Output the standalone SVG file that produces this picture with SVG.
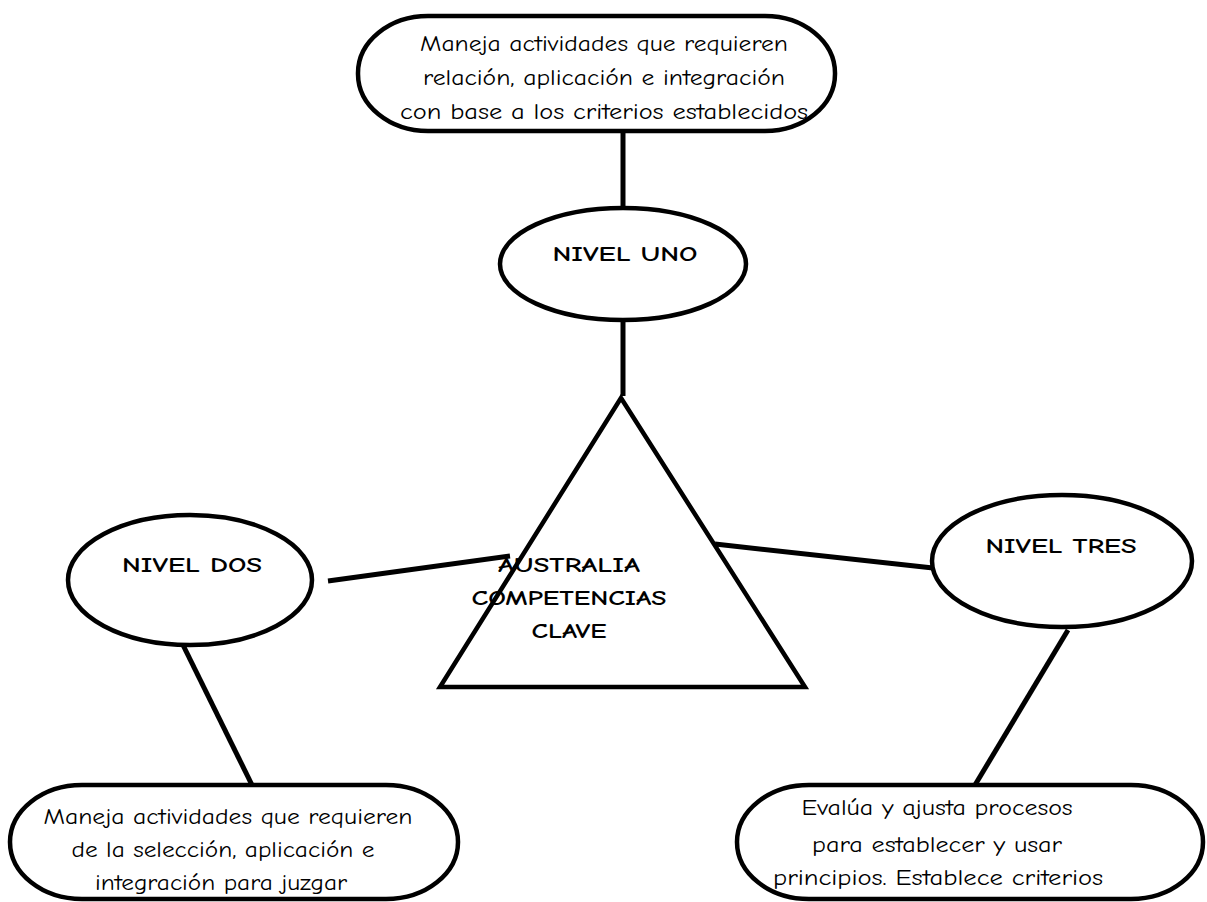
<svg xmlns="http://www.w3.org/2000/svg" width="1207" height="902" viewBox="0 0 1207 902">
<style>
.shape{fill:#fff;stroke:#000;stroke-width:4.5}
.conn line{stroke:#000;stroke-width:5;stroke-linecap:butt}
.t{font-family:"Comic Sans MS","Comic Neue","DejaVu Sans",sans-serif;font-size:23px;fill:#000;text-anchor:middle}
.b{font-family:"Comic Sans MS","Comic Neue","DejaVu Sans",sans-serif;font-size:21px;font-weight:bold;fill:#000;text-anchor:middle}
</style>
<rect width="1207" height="902" fill="#fff"/>
<g class="conn" id="connectors">
<line x1="623" y1="132" x2="623" y2="208"/>
<line x1="623" y1="320" x2="623" y2="396"/>
<line x1="328" y1="581" x2="510" y2="556"/>
<line x1="715" y1="544" x2="933" y2="568"/>
<line x1="183" y1="645" x2="252" y2="785"/>
<line x1="1068" y1="630" x2="975" y2="785"/>
</g>
<g id="top-box">
<rect class="shape" x="358" y="16" width="477" height="115" rx="70" ry="57"/>
<text class="t" x="604" y="51" textLength="368" lengthAdjust="spacingAndGlyphs">Maneja actividades que requieren</text>
<text class="t" x="604" y="85" textLength="362" lengthAdjust="spacingAndGlyphs">relación, aplicación e integración</text>
<text class="t" x="604" y="119" textLength="408" lengthAdjust="spacingAndGlyphs">con base a los criterios establecidos</text>
</g>
<g id="nivel-uno">
<ellipse class="shape" cx="623" cy="264" rx="123" ry="56"/>
<text class="b" x="625" y="261" textLength="145" lengthAdjust="spacingAndGlyphs">NIVEL UNO</text>
</g>
<g id="triangle">
<polygon class="shape" points="621,398 440,687 805,687" style="fill:none"/>
<text class="b" x="569" y="572" textLength="142" lengthAdjust="spacingAndGlyphs">AUSTRALIA</text>
<text class="b" x="569" y="605" textLength="195" lengthAdjust="spacingAndGlyphs">COMPETENCIAS</text>
<text class="b" x="569" y="638" textLength="75" lengthAdjust="spacingAndGlyphs">CLAVE</text>
</g>
<g id="nivel-dos">
<ellipse class="shape" cx="190" cy="580" rx="122" ry="65"/>
<text class="b" x="192" y="572" textLength="140" lengthAdjust="spacingAndGlyphs">NIVEL DOS</text>
</g>
<g id="nivel-tres">
<ellipse class="shape" cx="1062" cy="561" rx="130" ry="66"/>
<text class="b" x="1061" y="553" textLength="151" lengthAdjust="spacingAndGlyphs">NIVEL TRES</text>
</g>
<g id="bottom-left-box">
<rect class="shape" x="10" y="785" width="448" height="114" rx="72" ry="57"/>
<text class="t" x="228" y="824" textLength="369" lengthAdjust="spacingAndGlyphs">Maneja actividades que requieren</text>
<text class="t" x="223" y="857" textLength="303" lengthAdjust="spacingAndGlyphs">de la selección, aplicación e</text>
<text class="t" x="221" y="890" textLength="252" lengthAdjust="spacingAndGlyphs">integración para juzgar</text>
</g>
<g id="bottom-right-box">
<rect class="shape" x="737" y="785" width="466" height="114" rx="72" ry="57"/>
<text class="t" x="937" y="815" textLength="271" lengthAdjust="spacingAndGlyphs">Evalúa y ajusta procesos</text>
<text class="t" x="937" y="852" textLength="250" lengthAdjust="spacingAndGlyphs">para establecer y usar</text>
<text class="t" x="938" y="885" textLength="330" lengthAdjust="spacingAndGlyphs">principios. Establece criterios</text>
</g>
</svg>
